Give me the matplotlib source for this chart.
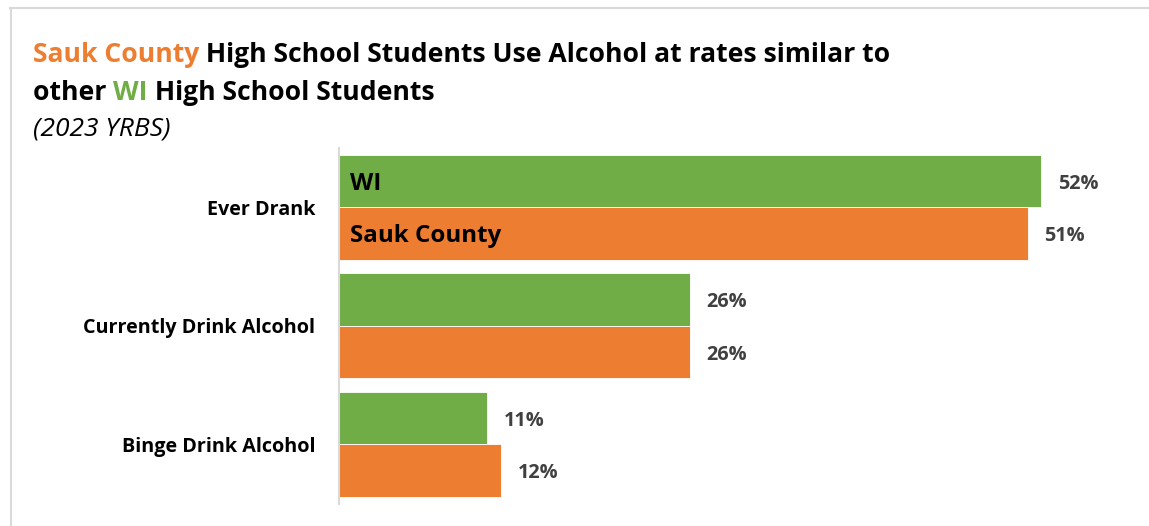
import matplotlib
matplotlib.use("Agg")
import matplotlib.pyplot as plt
import numpy as np

plt.rcParams['font.family'] = ['Open Sans', 'DejaVu Sans']

categories = ["Ever Drank", "Currently Drink Alcohol", "Binge Drink Alcohol"]
wi_values = [52, 26, 11]
sauk_values = [51, 26, 12]
series_names = ["WI", "Sauk County"]

GREEN = "#70AD47"
ORANGE = "#ED7D31"
GRID = "#D9D9D9"

W, H = 1149, 526
fig = plt.figure(figsize=(W / 100, H / 100), dpi=100)


def px(x, y):
    # pixel coords (from top-left) to figure fraction
    return x / W, 1 - y / H


# outer frame (top and left edges only show)
fig.add_artist(plt.Line2D([10 / W, 1], [1 - 7.5 / H] * 2, color=GRID, lw=1.5, transform=fig.transFigure))
fig.add_artist(plt.Line2D([10.5 / W] * 2, [0, 1 - 7.5 / H], color=GRID, lw=1.5, transform=fig.transFigure))

# bar area
x0, x1 = 339, 1149
ytop, ybot = 148, 503.5
ax = fig.add_axes([x0 / W, 1 - ybot / H, (x1 - x0) / W, (ybot - ytop) / H])
ax.set_xlim(0, (x1 - x0) / 13.5)
ax.set_ylim(len(categories) - 0.5, -0.5)

y = np.arange(len(categories))
h = 0.443
ax.barh(y - h / 2, wi_values, height=h, color=GREEN, edgecolor="white", linewidth=0.6)
ax.barh(y + h / 2, sauk_values, height=h, color=ORANGE, edgecolor="white", linewidth=0.6)

for i in range(len(categories)):
    ax.annotate(f"{wi_values[i]}%", (wi_values[i], y[i] - h / 2), xytext=(12, -2),
                textcoords="offset points", va="center", ha="left",
                fontsize=14.3, fontweight="bold", color="#404040")
    ax.annotate(f"{sauk_values[i]}%", (sauk_values[i], y[i] + h / 2), xytext=(12, -2),
                textcoords="offset points", va="center", ha="left",
                fontsize=14.3, fontweight="bold", color="#404040")

# series names inside the first pair of bars
ax.annotate(series_names[0], (0, y[0] - h / 2), xytext=(8, -2), textcoords="offset points",
            va="center", ha="left", fontsize=17.4, fontweight="bold", color="black")
ax.annotate(series_names[1], (0, y[0] + h / 2), xytext=(8, -1.5), textcoords="offset points",
            va="center", ha="left", fontsize=17.4, fontweight="bold", color="black")

ax.set_yticks(y)
ax.set_yticklabels(categories, fontsize=14.25, fontweight="bold")
ax.tick_params(axis="y", length=0, pad=17)
ax.set_xticks([])
for s in ["top", "right", "bottom"]:
    ax.spines[s].set_visible(False)
ax.spines["left"].set_color(GRID)
ax.spines["left"].set_linewidth(1.5)

# title in colored pieces
fig.canvas.draw()
renderer = fig.canvas.get_renderer()


def colored_line(pieces, x, y, **kw):
    for text, color in pieces:
        t = fig.text(*px(x, y), text, color=color, va="baseline", ha="left", **kw)
        x += t.get_window_extent(renderer).width


title_kw = dict(fontsize=19.1, fontweight="bold")
colored_line([("Sauk County", ORANGE), (" High School Students Use Alcohol at rates similar to", "black")],
             33, 62, **title_kw)
colored_line([("other ", "black"), ("WI", GREEN), (" High School Students", "black")],
             33, 100, **title_kw)
fig.text(*px(33, 136), "(2023 YRBS)", fontsize=19, fontstyle="italic", color="black",
         va="baseline", ha="left")

fig.savefig("out.png", dpi=100)
